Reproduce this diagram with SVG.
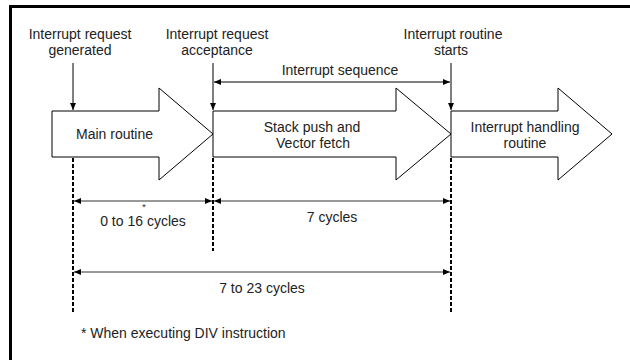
<svg xmlns="http://www.w3.org/2000/svg" width="630" height="360" viewBox="0 0 630 360">
  <style>
    text { font-family: "Liberation Sans", Arial, sans-serif; font-size: 14px; fill: #222; }
    .mid { text-anchor: middle; }
    .shape { fill: #fff; stroke: #000; stroke-width: 1; }
    .ptr { stroke: #000; stroke-width: 1; fill: none; }
    .dim { stroke: #333; stroke-width: 1; fill: none; }
    .dash { stroke: #000; stroke-width: 2; stroke-dasharray: 4 2; fill: none; }
    .star { font-size: 9px; }
  </style>
  <defs>
    <marker id="ah" markerWidth="7" markerHeight="6" refX="7" refY="3" orient="auto-start-reverse" markerUnits="userSpaceOnUse">
      <path d="M0,0 L7,3 L0,6 z" fill="#000"/>
    </marker>
  </defs>
  <rect width="630" height="360" fill="#fff"/>
  <path d="M10.5,360 V6.5 H630" fill="none" stroke="#000" stroke-width="3"/>

  <g id="main-routine">
    <polygon class="shape" points="52,111 159,111 159,88 213,134 159,180 159,157 52,157"/>
    <text x="76" y="139">Main routine</text>
  </g>
  <g id="stack-push">
    <polygon class="shape" points="213,111 396,111 396,88 451,134 396,180 396,157 213,157"/>
    <text class="mid" x="312" y="132">Stack push and</text>
    <text class="mid" x="313" y="148">Vector fetch</text>
  </g>
  <g id="interrupt-handling">
    <polygon class="shape" points="451,111 558,111 558,88 612,134 558,180 558,157 451,157"/>
    <text class="mid" x="525" y="132">Interrupt handling</text>
    <text class="mid" x="525" y="148">routine</text>
  </g>

  <g id="label-generated">
    <text class="mid" x="80" y="39">Interrupt request</text>
    <text class="mid" x="80" y="55">generated</text>
  </g>
  <g id="label-acceptance">
    <text class="mid" x="217" y="39">Interrupt request</text>
    <text class="mid" x="217" y="55">acceptance</text>
  </g>
  <g id="label-starts">
    <text class="mid" x="453" y="39">Interrupt routine</text>
    <text class="mid" x="451" y="55">starts</text>
  </g>

  <g id="connectors">
    <line class="ptr" x1="73" y1="63" x2="73" y2="110" marker-end="url(#ah)"/>
    <line class="ptr" x1="213" y1="63" x2="213" y2="110" marker-end="url(#ah)"/>
    <line class="ptr" x1="451" y1="63" x2="451" y2="110" marker-end="url(#ah)"/>
    <line class="ptr" x1="214" y1="82" x2="450" y2="82" marker-start="url(#ah)" marker-end="url(#ah)"/>

    <line class="dash" x1="73" y1="158" x2="73" y2="314"/>
    <line class="dash" x1="213" y1="158" x2="213" y2="251"/>
    <line class="dash" x1="451" y1="158" x2="451" y2="314"/>

    <line class="dim" x1="74" y1="201" x2="212" y2="201" marker-start="url(#ah)" marker-end="url(#ah)"/>
    <line class="dim" x1="214" y1="201" x2="450" y2="201" marker-start="url(#ah)" marker-end="url(#ah)"/>
    <line class="dim" x1="74" y1="272" x2="450" y2="272" marker-start="url(#ah)" marker-end="url(#ah)"/>
  </g>

  <g id="labels">
    <text class="mid" x="340" y="75">Interrupt sequence</text>
    <text class="mid" x="143" y="226">0 to 16 cycles</text>
    <text class="mid star" x="144" y="210">*</text>
    <text class="mid" x="332" y="222">7 cycles</text>
    <text class="mid" x="262" y="293">7 to 23 cycles</text>
    <text x="81" y="338">* When executing DIV instruction</text>
  </g>
</svg>
